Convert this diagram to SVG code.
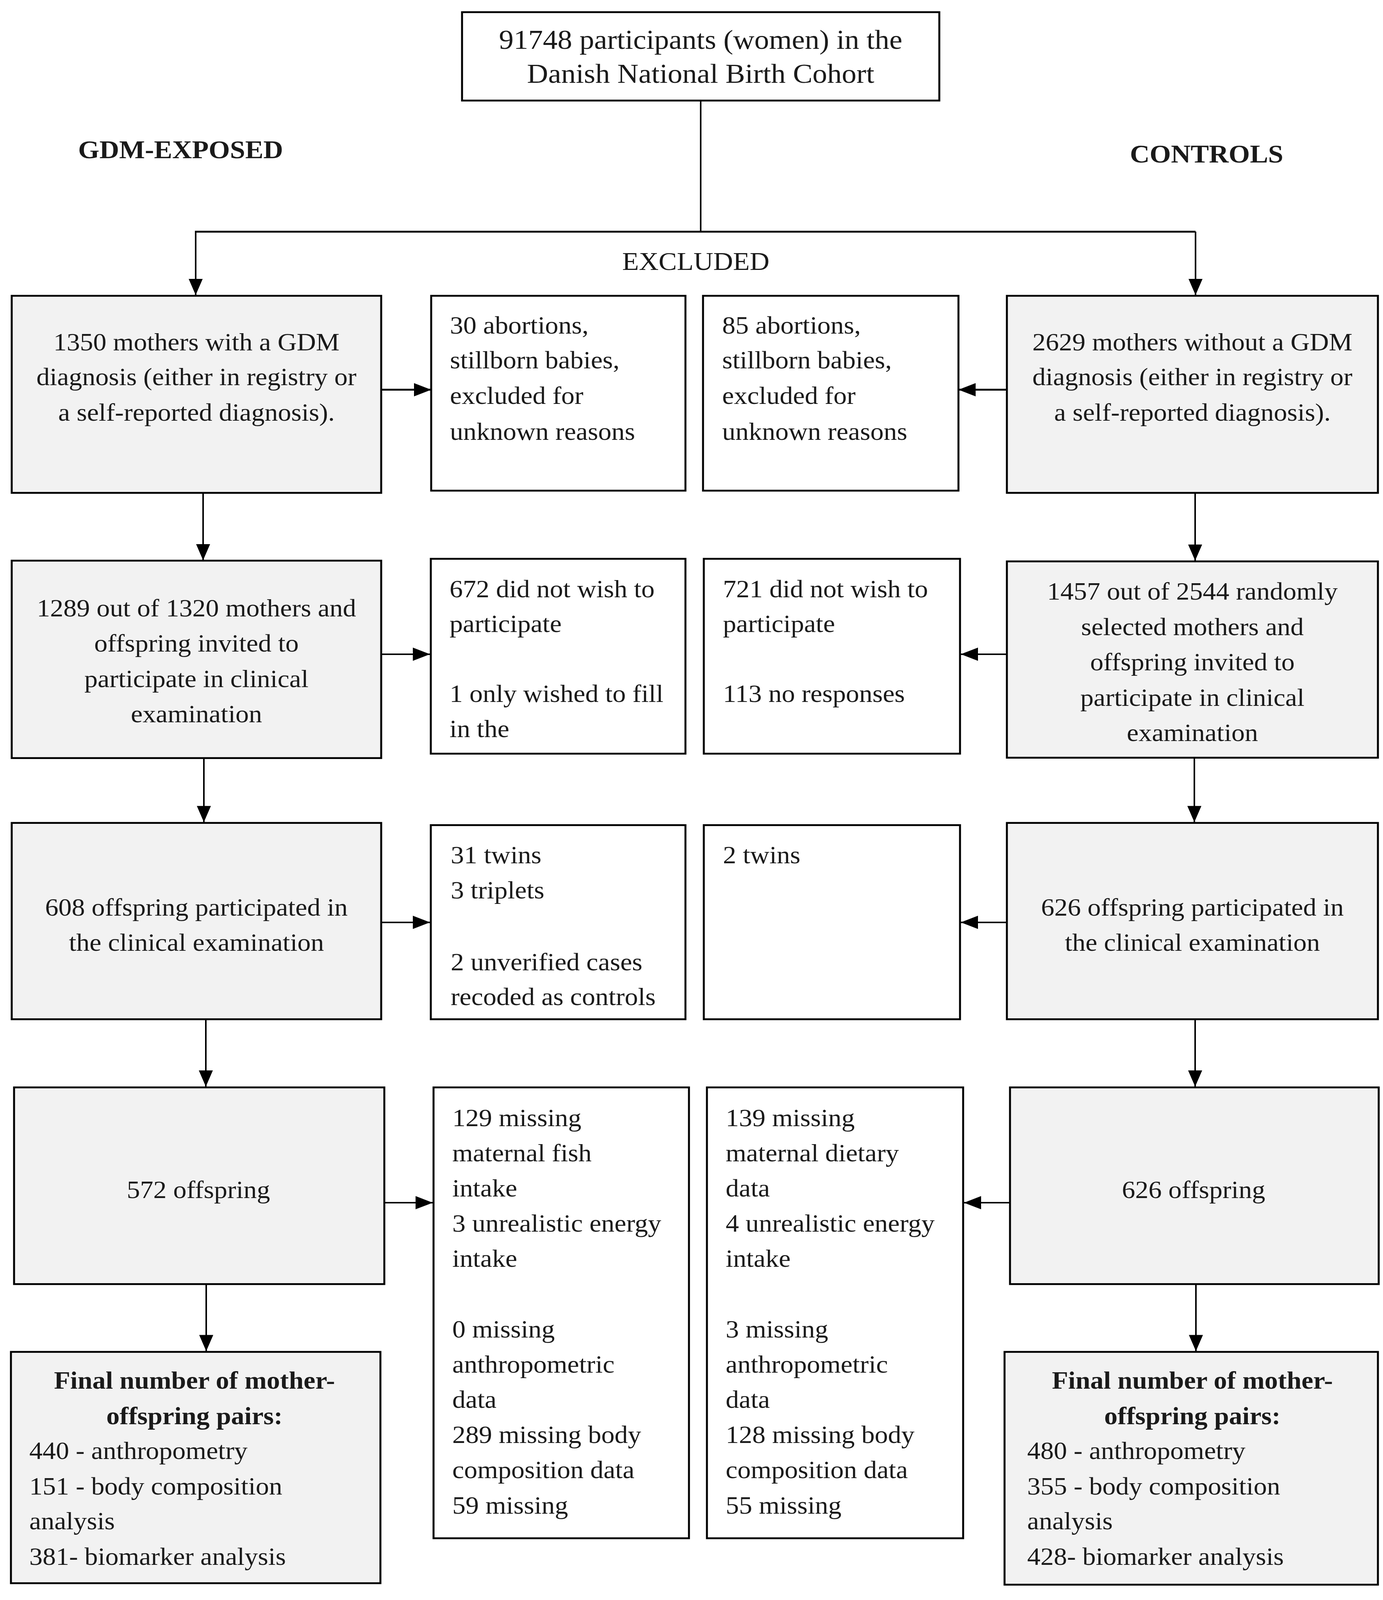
<svg xmlns="http://www.w3.org/2000/svg" width="3541" height="4312" viewBox="0 0 3541 4312">
<defs>
<style>
.box{stroke:#000;stroke-width:5;}
.g{fill:#f2f2f2;}
.w{fill:#fff;}
.t{font-family:"Liberation Serif","Times New Roman",serif;font-size:68px;fill:#1a1a1a;}
.c{text-anchor:middle;}
.b{font-weight:bold;}
.h{font-family:"Liberation Serif","Times New Roman",serif;font-size:70px;fill:#1a1a1a;}
.ln{fill:none;stroke:#000;stroke-width:4;}
</style>
<marker id="ah" markerUnits="userSpaceOnUse" markerWidth="44" markerHeight="36" refX="44" refY="18" orient="auto">
<path d="M0,0 L44,18 L0,36 z" fill="#000"/>
</marker>
</defs>
<rect width="3541" height="4312" fill="#fff"/>
<g id="diagram" transform="scale(1,0.943)">

<g id="connectors">
<path class="ln" d="M1794,273 V629"/>
<path class="ln" style="stroke-width:5" d="M499,629 H3061"/>
<path class="ln" d="M501,629 V801" marker-end="url(#ah)"/>
<path class="ln" d="M3061,629 V801" marker-end="url(#ah)"/>
<path class="ln" style="stroke-width:5" d="M976,1058 H1104" marker-end="url(#ah)"/>
<path class="ln" style="stroke-width:5" d="M2578,1058 H2454" marker-end="url(#ah)"/>
<path class="ln" d="M520,1338 V1521" marker-end="url(#ah)"/>
<path class="ln" d="M3060,1338 V1522" marker-end="url(#ah)"/>
<path class="ln" d="M976,1776 H1101" marker-end="url(#ah)"/>
<path class="ln" d="M2578,1776 H2460" marker-end="url(#ah)"/>
<path class="ln" d="M522,2058 V2232" marker-end="url(#ah)"/>
<path class="ln" d="M3058,2057 V2232" marker-end="url(#ah)"/>
<path class="ln" d="M976,2504 H1101" marker-end="url(#ah)"/>
<path class="ln" d="M2578,2504 H2460" marker-end="url(#ah)"/>
<path class="ln" d="M527,2767 V2950" marker-end="url(#ah)"/>
<path class="ln" d="M3060,2767 V2950" marker-end="url(#ah)"/>
<path class="ln" d="M984,3265 H1108" marker-end="url(#ah)"/>
<path class="ln" d="M2586,3265 H2468" marker-end="url(#ah)"/>
<path class="ln" d="M528,3486 V3668" marker-end="url(#ah)"/>
<path class="ln" d="M3062,3486 V3668" marker-end="url(#ah)"/>
</g>

<g id="labels">
<text class="h b" x="200" y="430">GDM-EXPOSED</text>
<text class="h b" x="2893" y="441">CONTROLS</text>
<text class="h" x="1593" y="733">EXCLUDED</text>
</g>

<g id="top">
<rect class="box w" x="1183" y="33" width="1222" height="240"/>
<text class="t c" style="font-size:75px" x="1794" y="133">91748 participants (women) in the</text>
<text class="t c" style="font-size:75px" x="1794" y="225">Danish National Birth Cohort</text>
</g>

<g id="L1">
<rect class="box g" x="30" y="803" width="946" height="535"/>
<text class="t c" x="503" y="951">1350 mothers with a GDM</text>
<text class="t c" x="503" y="1046">diagnosis (either in registry or</text>
<text class="t c" x="503" y="1142">a self-reported diagnosis).</text>
</g>

<g id="E1">
<rect class="box w" x="1104" y="803" width="651" height="529"/>
<text class="t" x="1152" y="906">30 abortions,</text>
<text class="t" x="1152" y="1000">stillborn babies,</text>
<text class="t" x="1152" y="1096">excluded for</text>
<text class="t" x="1152" y="1194">unknown reasons</text>
</g>

<g id="E2">
<rect class="box w" x="1800" y="803" width="654" height="529"/>
<text class="t" x="1849" y="906">85 abortions,</text>
<text class="t" x="1849" y="1000">stillborn babies,</text>
<text class="t" x="1849" y="1096">excluded for</text>
<text class="t" x="1849" y="1194">unknown reasons</text>
</g>

<g id="R1">
<rect class="box g" x="2578" y="803" width="950" height="535"/>
<text class="t c" x="3053" y="951">2629 mothers without a GDM</text>
<text class="t c" x="3053" y="1046">diagnosis (either in registry or</text>
<text class="t c" x="3053" y="1142">a self-reported diagnosis).</text>
</g>

<g id="L2">
<rect class="box g" x="30" y="1522" width="946" height="536"/>
<text class="t c" x="503" y="1673">1289 out of 1320 mothers and</text>
<text class="t c" x="503" y="1769">offspring invited to</text>
<text class="t c" x="503" y="1865">participate in clinical</text>
<text class="t c" x="503" y="1961">examination</text>
</g>

<g id="E3">
<rect class="box w" x="1103" y="1517" width="652" height="529"/>
<text class="t" x="1151" y="1621">672 did not wish to</text>
<text class="t" x="1151" y="1716">participate</text>
<text class="t" x="1151" y="1906">1 only wished to fill</text>
<text class="t" x="1151" y="2001">in the</text>
</g>

<g id="E4">
<rect class="box w" x="1802" y="1517" width="656" height="529"/>
<text class="t" x="1851" y="1621">721 did not wish to</text>
<text class="t" x="1851" y="1716">participate</text>
<text class="t" x="1851" y="1906">113 no responses</text>
</g>

<g id="R2">
<rect class="box g" x="2578" y="1524" width="950" height="533"/>
<text class="t c" x="3053" y="1628">1457 out of 2544 randomly</text>
<text class="t c" x="3053" y="1724">selected mothers and</text>
<text class="t c" x="3053" y="1820">offspring invited to</text>
<text class="t c" x="3053" y="1916">participate in clinical</text>
<text class="t c" x="3053" y="2012">examination</text>
</g>

<g id="L3">
<rect class="box g" x="30" y="2234" width="946" height="533"/>
<text class="t c" x="503" y="2486">608 offspring participated in</text>
<text class="t c" x="503" y="2581">the clinical examination</text>
</g>

<g id="E5">
<rect class="box w" x="1103" y="2240" width="652" height="527"/>
<text class="t" x="1154" y="2344">31 twins</text>
<text class="t" x="1154" y="2439">3 triplets</text>
<text class="t" x="1154" y="2634">2 unverified cases</text>
<text class="t" x="1154" y="2729">recoded as controls</text>
</g>

<g id="E6">
<rect class="box w" x="1802" y="2240" width="656" height="527"/>
<text class="t" x="1851" y="2344">2 twins</text>
</g>

<g id="R3">
<rect class="box g" x="2578" y="2234" width="950" height="533"/>
<text class="t c" x="3053" y="2486">626 offspring participated in</text>
<text class="t c" x="3053" y="2581">the clinical examination</text>
</g>

<g id="L4">
<rect class="box g" x="36" y="2952" width="948" height="534"/>
<text class="t c" x="508" y="3252">572 offspring</text>
</g>

<g id="E7">
<rect class="box w" x="1110" y="2952" width="654" height="1224"/>
<text class="t" x="1158" y="3057">129 missing</text>
<text class="t" x="1158" y="3153">maternal fish</text>
<text class="t" x="1158" y="3248">intake</text>
<text class="t" x="1158" y="3344">3 unrealistic energy</text>
<text class="t" x="1158" y="3439">intake</text>
<text class="t" x="1158" y="3631">0 missing</text>
<text class="t" x="1158" y="3726">anthropometric</text>
<text class="t" x="1158" y="3822">data</text>
<text class="t" x="1158" y="3917">289 missing body</text>
<text class="t" x="1158" y="4013">composition data</text>
<text class="t" x="1158" y="4109">59 missing</text>
</g>

<g id="E8">
<rect class="box w" x="1810" y="2952" width="656" height="1224"/>
<text class="t" x="1858" y="3057">139 missing</text>
<text class="t" x="1858" y="3153">maternal dietary</text>
<text class="t" x="1858" y="3248">data</text>
<text class="t" x="1858" y="3344">4 unrealistic energy</text>
<text class="t" x="1858" y="3439">intake</text>
<text class="t" x="1858" y="3631">3 missing</text>
<text class="t" x="1858" y="3726">anthropometric</text>
<text class="t" x="1858" y="3822">data</text>
<text class="t" x="1858" y="3917">128 missing body</text>
<text class="t" x="1858" y="4013">composition data</text>
<text class="t" x="1858" y="4109">55 missing</text>
</g>

<g id="R4">
<rect class="box g" x="2586" y="2952" width="944" height="534"/>
<text class="t c" x="3056" y="3252">626 offspring</text>
</g>

<g id="L5">
<rect class="box g" x="28" y="3670" width="946" height="628"/>
<text class="t c b" x="498" y="3770">Final number of mother-</text>
<text class="t c b" x="498" y="3866">offspring pairs:</text>
<text class="t" x="75" y="3961">440 - anthropometry</text>
<text class="t" x="75" y="4057">151 - body composition</text>
<text class="t" x="75" y="4152">analysis</text>
<text class="t" x="75" y="4248">381- biomarker analysis</text>
</g>

<g id="R5">
<rect class="box g" x="2572" y="3670" width="956" height="632"/>
<text class="t c b" x="3053" y="3770">Final number of mother-</text>
<text class="t c b" x="3053" y="3866">offspring pairs:</text>
<text class="t" x="2630" y="3961">480 - anthropometry</text>
<text class="t" x="2630" y="4057">355 - body composition</text>
<text class="t" x="2630" y="4152">analysis</text>
<text class="t" x="2630" y="4248">428- biomarker analysis</text>
</g>
</g>
</svg>
